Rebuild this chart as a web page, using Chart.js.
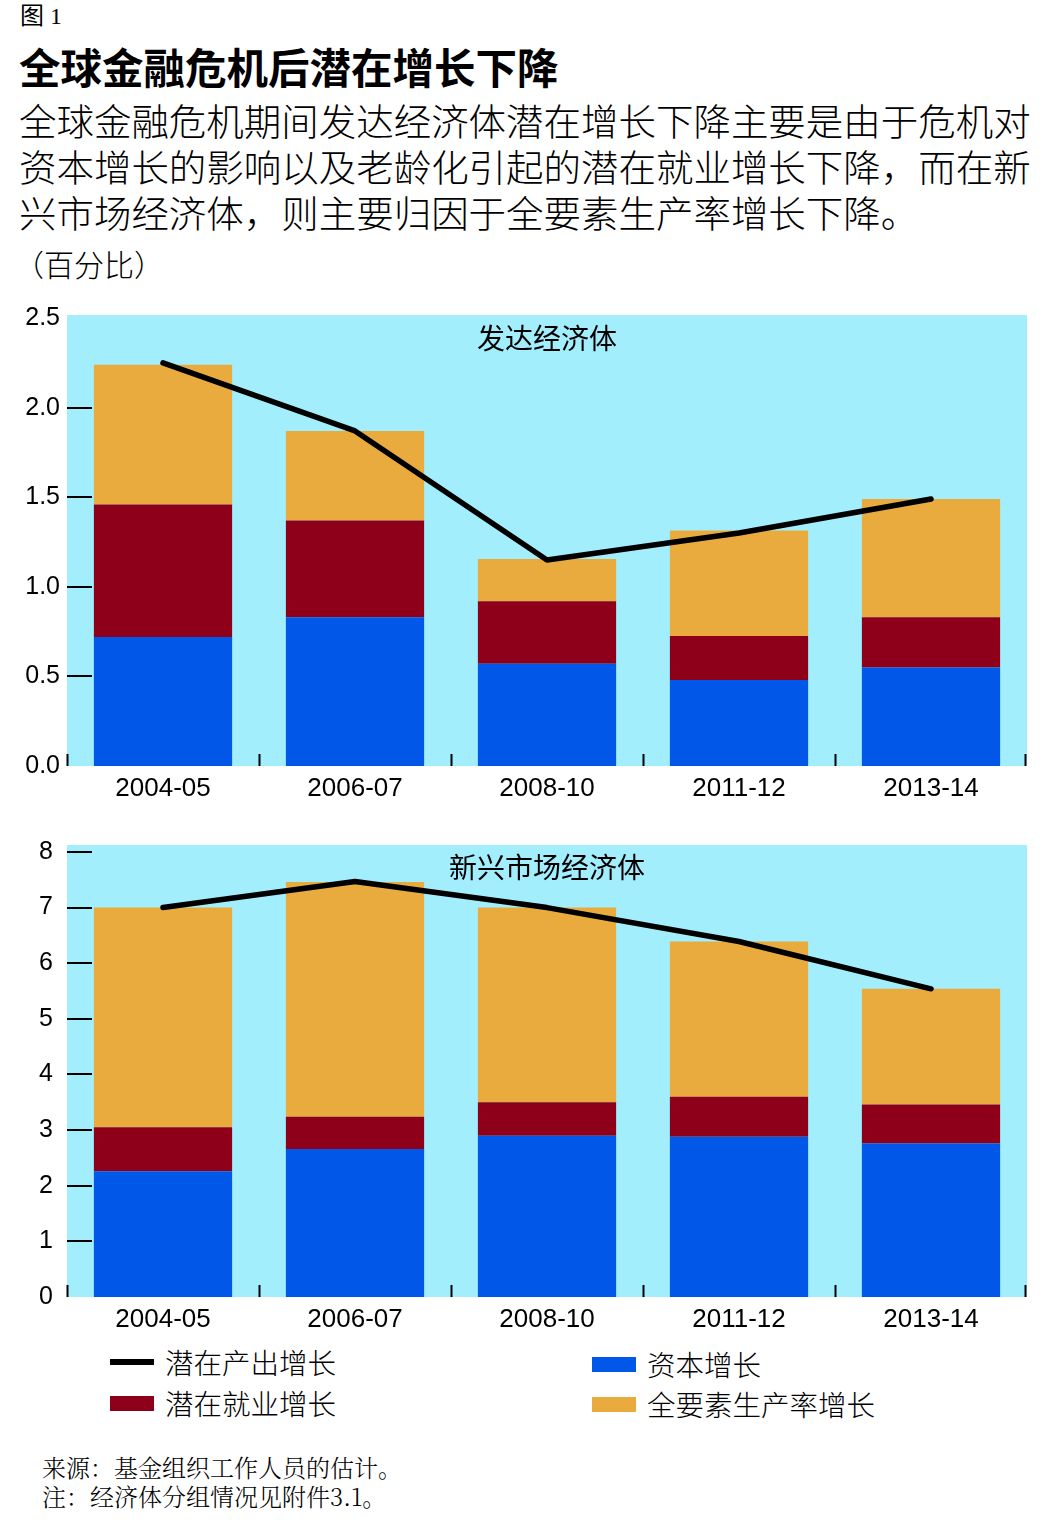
<!DOCTYPE html>
<html>
<head>
<meta charset="utf-8">
<script src="https://cdn.jsdelivr.net/npm/chart.js@4.4.1/dist/chart.umd.min.js"></script>
<style>
  html, body { margin:0; padding:0; background:#ffffff; }
  body { width:1047px; height:1523px; position:relative; overflow:hidden;
         font-family:"Noto Sans CJK SC","Noto Sans",sans-serif; color:#000; }
  .abs { position:absolute; white-space:nowrap; }
  #fig { left:20px; top:2px; font-size:24px; line-height:28px; font-family:"Liberation Serif","Noto Sans CJK SC",serif; }
  #title { left:19px; top:41px; font-size:41.5px; line-height:50px; font-weight:700; }
  #sub { left:19px; top:97px; font-size:38.6px; line-height:46px; font-weight:300; }
  #sub span { display:inline-block; }
  #unit { left:14px; top:245px; font-size:30px; line-height:36px; font-weight:300; }
  .ptitle { left:67px; width:960px; text-align:center; font-size:28px; line-height:34px; }
  canvas { position:absolute; left:0; }
  .lg { font-size:28.5px; line-height:36px; font-weight:300; }
  .sw { position:absolute; }
  #notes { left:42px; top:1452px; font-size:24px; line-height:29px; font-weight:300;
           font-family:"Noto Serif CJK SC","Noto Sans CJK SC",serif; }
</style>
</head>
<body>
<div class="abs" id="fig">图 1</div>
<div class="abs" id="title">全球金融危机后潜在增长下降</div>
<div class="abs" id="sub"><span id="l1">全球金融危机期间发达经济体潜在增长下降主要是由于危机对</span><br><span>资本增长的影响以及老龄化引起的潜在就业增长下降，而在新</span><br><span>兴市场经济体，则主要归因于全要素生产率增长下降。</span></div>
<div class="abs" id="unit">（百分比）</div>

<canvas id="c1" width="1047" height="510" style="top:300px"></canvas>
<canvas id="c2" width="1047" height="510" style="top:830px"></canvas>

<div class="abs ptitle" style="top:320px">发达经济体</div>
<div class="abs ptitle" style="top:849px">新兴市场经济体</div>

<div id="legend"></div>

<div class="abs" id="notes">来源：基金组织工作人员的估计。<br>注：经济体分组情况见附件3.1。</div>

<script>
// ---- data ----
const categories = ['2004-05', '2006-07', '2008-10', '2011-12', '2013-14'];

const seriesNames = ['潜在产出增长', '潜在就业增长', '资本增长', '全要素生产率增长'];

// Advanced economies
const advCapital    = [0.72, 0.83, 0.57, 0.48, 0.55];
const advEmployment = [0.74, 0.54, 0.35, 0.245, 0.28];
const advTFP        = [0.78, 0.50, 0.235, 0.59, 0.66];
const advPotential  = [2.25, 1.87, 1.15, 1.30, 1.49];
const advTicks      = [0, 0.5, 1.0, 1.5, 2.0, 2.5];

// Emerging market economies
const emCapital    = [2.26, 2.66, 2.90, 2.88, 2.76];
const emEmployment = [0.79, 0.58, 0.60, 0.72, 0.70];
const emTFP        = [3.95, 4.22, 3.50, 2.79, 2.08];
const emPotential  = [7.00, 7.47, 7.00, 6.39, 5.54];
const emTicks      = [0, 1, 2, 3, 4, 5, 6, 7, 8];

// ---- styles ----
const COL_LINE = '#000000';
const COL_EMP  = '#8E0019';
const COL_CAP  = '#0057E8';
const COL_TFP  = '#E9AB3E';
const COL_BG   = '#A3EEFC';

// fit subtitle width to the reference (line 1 spans ~20..1031)
(function fitSub() {
  const sub = document.getElementById('sub');
  const l1 = document.getElementById('l1');
  const w = l1.getBoundingClientRect().width;
  if (w > 0) {
    const fs = parseFloat(getComputedStyle(sub).fontSize);
    sub.style.fontSize = (fs * 1011 / w).toFixed(2) + 'px';
  }
})();

const decor = {
  id: 'decor',
  beforeDraw(chart) {
    const { ctx, chartArea: a } = chart;
    ctx.save();
    ctx.fillStyle = COL_BG;
    ctx.fillRect(a.left, a.top, a.right - a.left, a.bottom - a.top);
    ctx.restore();
  },
  beforeDatasetsDraw(chart) {
    const { ctx, chartArea: a, scales } = chart;
    const y = scales.y;
    ctx.save();
    ctx.strokeStyle = '#000';
    ctx.lineWidth = 2;
    y.ticks.forEach(t => {
      const py = y.getPixelForValue(t.value);
      if (t.value > 0 && py > a.top + 5) {
        ctx.beginPath();
        ctx.moveTo(a.left, Math.round(py));
        ctx.lineTo(a.left + 25, Math.round(py));
        ctx.stroke();
      }
    });
    const n = categories.length;
    const w = (a.right - a.left) / n;
    for (let i = 0; i <= n; i++) {
      const px = Math.round(a.left + i * w) + 0.5 - (i === n ? 2 : 0);
      ctx.beginPath();
      ctx.moveTo(px, a.bottom);
      ctx.lineTo(px, a.bottom - 12);
      ctx.stroke();
    }
    ctx.restore();
  }
};

function makeChart(id, cap, emp, tfp, pot, ticks, yMax, fmt, labelPad, xH) {
  return new Chart(document.getElementById(id), {
    data: {
      labels: categories,
      datasets: [
        { type: 'line', label: seriesNames[0], data: pot, borderColor: COL_LINE, borderWidth: 5.5,
          pointRadius: 0, tension: 0, borderCapStyle: 'round', borderJoinStyle: 'round',
          stack: 'line', order: 0 },
        { type: 'bar', label: seriesNames[2], data: cap, backgroundColor: COL_CAP, stack: 'bars', order: 1 },
        { type: 'bar', label: seriesNames[1], data: emp, backgroundColor: COL_EMP, stack: 'bars', order: 1 },
        { type: 'bar', label: seriesNames[3], data: tfp, backgroundColor: COL_TFP, stack: 'bars', order: 1 }
      ]
    },
    options: {
      responsive: false,
      animation: false,
      devicePixelRatio: 1,
      layout: { padding: { top: 15, right: 20, left: 0, bottom: 0 } },
      datasets: { bar: { categoryPercentage: 1.0, barPercentage: 0.72 } },
      plugins: { legend: { display: false }, tooltip: { enabled: false }, title: { display: false } },
      scales: {
        x: {
          stacked: true,
          grid: { display: false, drawTicks: false },
          border: { display: false },
          ticks: { color: '#000', font: { family: 'Liberation Sans, Arial, sans-serif', size: 26 }, padding: 7, maxRotation: 0 },
          afterFit(s) { s.height = xH; s.paddingLeft = 0; s.paddingRight = 0; }
        },
        y: {
          stacked: true,
          min: 0, max: yMax,
          grid: { display: false, drawTicks: false },
          border: { display: false },
          afterBuildTicks(s) { s.ticks = ticks.map(v => ({ value: v })); },
          ticks: { color: '#000', font: { family: 'Liberation Sans, Arial, sans-serif', size: 25 },
                   padding: labelPad, callback: v => fmt(v) },
          afterFit(s) { s.width = 67; s.paddingTop = 0; s.paddingBottom = 0; }
        }
      }
    },
    plugins: [decor]
  });
}

makeChart('c1', advCapital, advEmployment, advTFP, advPotential, advTicks, 2.517, v => Number(v).toFixed(1), 7, 44);
makeChart('c2', emCapital, emEmployment, emTFP, emPotential, emTicks, 8.125, v => String(v), 14, 43);

// ---- legend (HTML) ----
const legendItems = [
  { name: seriesNames[0], color: COL_LINE, kind: 'line', x: 110, y: 1362 },
  { name: seriesNames[1], color: COL_EMP,  kind: 'box',  x: 110, y: 1403 },
  { name: seriesNames[2], color: COL_CAP,  kind: 'box',  x: 592, y: 1364 },
  { name: seriesNames[3], color: COL_TFP,  kind: 'box',  x: 592, y: 1404 }
];
const lg = document.getElementById('legend');
legendItems.forEach(it => {
  const sw = document.createElement('div');
  sw.className = 'sw';
  const h = it.kind === 'line' ? 6 : 15;
  sw.style.cssText = `left:${it.x}px;top:${it.y - h / 2}px;width:44px;height:${h}px;background:${it.color};`;
  lg.appendChild(sw);
  const t = document.createElement('div');
  t.className = 'abs lg';
  t.style.left = (it.x + 55) + 'px';
  t.style.top = (it.y - 18) + 'px';
  t.textContent = it.name;
  lg.appendChild(t);
});
</script>
</body>
</html>
